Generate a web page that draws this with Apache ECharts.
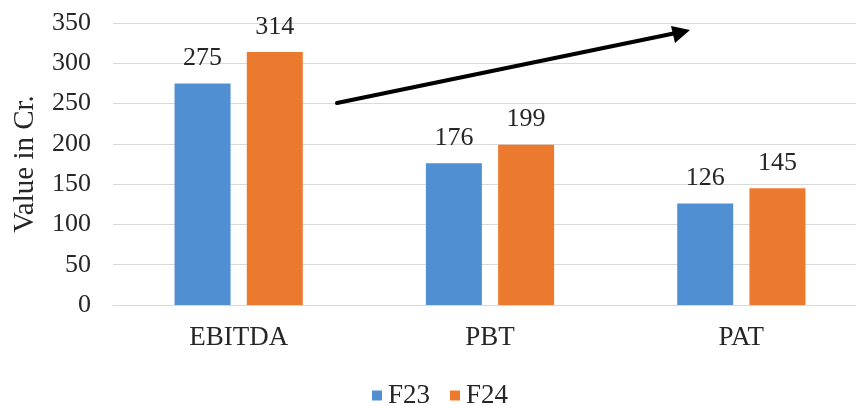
<!DOCTYPE html>
<html>
<head>
<meta charset="utf-8">
<script src="https://cdn.jsdelivr.net/npm/echarts@6/dist/echarts.min.js"></script>
<style>
  html, body { margin: 0; padding: 0; background: #ffffff; overflow: hidden; }
  #wrap { width: 856px; height: 406px; overflow: hidden; }
  /* plot area runs slightly past the right edge of the visible frame */
  #chart { width: 880px; height: 406px; }
</style>
</head>
<body>
<div id="wrap"><div id="chart"></div></div>
<script>
// Financial metrics, FY23 vs FY24 (values in crore)
const categories = ['EBITDA', 'PBT', 'PAT'];
const f23Values = [275, 176, 126];
const f24Values = [314, 199, 145];
const seriesNames = ['F23', 'F24'];
const yTicks = { min: 0, max: 350, interval: 50 };

const FONT = '"Liberation Serif", "Times New Roman", serif';
const TEXT = '#262626';
const chart = echarts.init(document.getElementById('chart'));

const labelStyle = {
  show: true,
  position: 'top',
  distance: 12,
  color: TEXT,
  fontFamily: FONT,
  fontSize: 26
};

chart.setOption({
  backgroundColor: '#ffffff',
  animation: false,
  grid: { left: 113, top: 23, width: 754, bottom: 101, containLabel: false },
  legend: {
    data: seriesNames,
    left: 367,
    top: 377,
    icon: 'rect',
    itemWidth: 10,
    itemHeight: 10,
    itemGap: 20,
    textStyle: { fontFamily: FONT, fontSize: 27, color: TEXT, padding: [0, 0, 0, 1] }
  },
  xAxis: {
    type: 'category',
    data: categories,
    axisLine: { show: true, lineStyle: { color: '#d9d9d9', width: 1 } },
    axisTick: { show: false },
    axisLabel: { fontFamily: FONT, fontSize: 27, color: TEXT, margin: 19 }
  },
  yAxis: {
    type: 'value',
    min: yTicks.min,
    max: yTicks.max,
    interval: yTicks.interval,
    name: 'Value in Cr.',
    nameLocation: 'middle',
    nameGap: 73,
    nameTextStyle: { fontFamily: FONT, fontSize: 29, color: TEXT },
    axisLine: { show: false },
    axisTick: { show: false },
    splitLine: { show: true, lineStyle: { color: '#d9d9d9', width: 1 } },
    axisLabel: { fontFamily: FONT, fontSize: 26, color: TEXT, margin: 22 }
  },
  series: [
    {
      name: seriesNames[0],
      type: 'bar',
      data: f23Values,
      barWidth: 56,
      barGap: '29%',
      itemStyle: { color: '#4f8fd2' },
      label: labelStyle
    },
    {
      name: seriesNames[1],
      type: 'bar',
      data: f24Values,
      barWidth: 56,
      barGap: '29%',
      itemStyle: { color: '#ec7a2e' },
      label: labelStyle
    }
  ],
  // Growth arrow annotation
  graphic: [
    {
      type: 'line',
      shape: { x1: 337, y1: 103, x2: 676, y2: 33 },
      style: { stroke: '#000000', lineWidth: 4, lineCap: 'round' },
      z: 100
    },
    {
      type: 'polygon',
      shape: { points: [[690, 30], [671, 26], [675, 43]] },
      style: { fill: '#000000' },
      z: 100
    }
  ]
});
</script>
</body>
</html>
